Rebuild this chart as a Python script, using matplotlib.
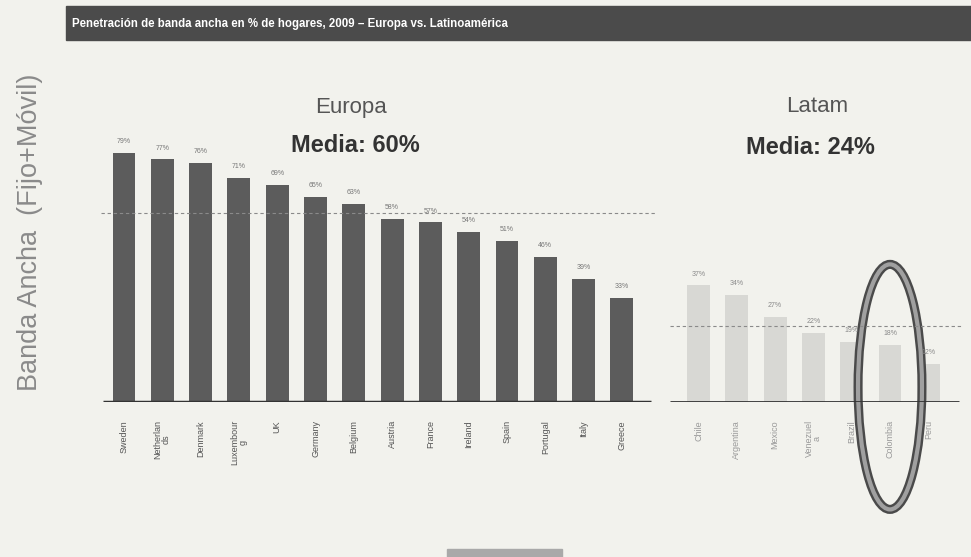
import numpy as np
import matplotlib
matplotlib.use('Agg')
import matplotlib.pyplot as plt
from matplotlib.patches import Rectangle, Ellipse
from matplotlib import font_manager

# data
europe_countries = ['Sweden', 'Netherlan\nds', 'Denmark', 'Luxembour\ng', 'UK', 'Germany',
                    'Belgium', 'Austria', 'France', 'Ireland', 'Spain', 'Portugal', 'Italy', 'Greece']
europe_values = [79, 77, 76, 71, 69, 65, 63, 58, 57, 54, 51, 46, 39, 33]
latam_countries = ['Chile', 'Argentina', 'Mexico', 'Venezuel\na', 'Brazil', 'Colombia', 'Peru']
latam_values = [37, 34, 27, 22, 19, 18, 12]
europe_mean = 60
latam_mean = 24
highlight = 'Colombia'

title = 'Penetración de banda ancha en % de hogares, 2009 – Europa vs. Latinoamérica'
ylabel = 'Banda Ancha  (Fijo+Móvil)'

names = {f.name for f in font_manager.fontManager.ttflist}
narrow = 'Liberation Sans Narrow' if 'Liberation Sans Narrow' in names else 'Liberation Sans'
plt.rcParams['font.family'] = ['Liberation Sans', 'DejaVu Sans']

W, H = 971, 557
bg = '#f2f2ed'
fig = plt.figure(figsize=(W / 100, H / 100), dpi=100, facecolor=bg)

# overlay in pixel coords for the slide furniture
ov = fig.add_axes([0, 0, 1, 1])
ov.set_xlim(0, W)
ov.set_ylim(H, 0)
ov.axis('off')
ov.set_facecolor(bg)
ov.add_patch(Rectangle((66, 6), W - 66, 34, color='#4b4b4b'))
ov.text(72, 24, title, color='white', fontsize=8.3, fontweight='bold',
        family=[narrow, 'DejaVu Sans'], va='center', ha='left')
ov.text(30, 232, ylabel, rotation=90, fontsize=19.5, color='#8a8a8a', ha='center', va='center')
ov.text(351, 107, 'Europa', fontsize=16, color='#555555', ha='center', va='center')
ov.text(355, 146, 'Media: 60%', fontsize=17, fontweight='bold', color='#333333', ha='center', va='center')
ov.text(817, 107, 'Latam', fontsize=16, color='#555555', ha='center', va='center')
ov.text(810, 148, 'Media: 24%', fontsize=17, fontweight='bold', color='#333333', ha='center', va='center')
ov.add_patch(Rectangle((447, 549), 115, 8, color='#a9a9a9'))

# bar chart
x0, step, base, ppu = 124, 38.3, 402, 3.15
ax = fig.add_axes([84 / W, (H - base) / H, 884 / W, 352 / H])
ax.set_xlim((84 - x0) / step, (968 - x0) / step)
ax.set_ylim(0, 352 / ppu)
ax.patch.set_alpha(0)
for s in ax.spines.values():
    s.set_visible(False)
ax.set_yticks([])

xe = np.arange(len(europe_values))
xl = np.arange(len(latam_values)) + len(europe_values) + 1

ax.bar(xe, europe_values, width=0.6, color='#5c5c5c')
ax.bar(xl, latam_values, width=0.6, color='#d8d8d4')

for x, v in zip(xe, europe_values):
    ax.text(x, v + 2.5, f'{v}%', ha='center', va='bottom', fontsize=5, color='#777777')
for x, v in zip(xl, latam_values):
    ax.text(x, v + 2.5, f'{v}%', ha='center', va='bottom', fontsize=5, color='#8a8a8a')

# axis baselines
ax.plot([xe[0] - 0.55, xe[-1] + 0.75], [0, 0], color='#333333', lw=2.5, solid_capstyle='butt')
ax.plot([xl[0] - 0.75, xl[-1] + 0.8], [0, 0], color='#333333', lw=2, solid_capstyle='butt')

# mean lines
ax.plot([xe[0] - 0.6, xe[-1] + 0.9], [europe_mean] * 2, ls=(0, (3, 2.5)), color='#8a8a8a', lw=0.8)
ax.plot([xl[0] - 0.75, xl[-1] + 0.9], [latam_mean] * 2, ls=(0, (3, 2.5)), color='#8a8a8a', lw=0.8)

ax.set_xticks(list(xe) + list(xl))
ax.set_xticklabels(europe_countries + latam_countries, rotation=90, fontsize=6.5, va='top',
                   linespacing=0.9)
for lbl in ax.get_xticklabels()[:len(xe)]:
    lbl.set_color('#555555')
for lbl in ax.get_xticklabels()[len(xe):]:
    lbl.set_color('#9a9a9a')
ax.tick_params(axis='x', length=0, pad=13)

# highlight ring
hx = xl[latam_countries.index(highlight)]
ax.add_patch(Ellipse((hx, 4.8), 1.67, 77.8, fill=False, ec='#4a4a4a', lw=6.5, clip_on=False))
ax.add_patch(Ellipse((hx, 4.8), 1.67, 77.8, fill=False, ec='#a0a0a0', lw=3, clip_on=False))

fig.savefig('out.png', dpi=100, facecolor=bg)
